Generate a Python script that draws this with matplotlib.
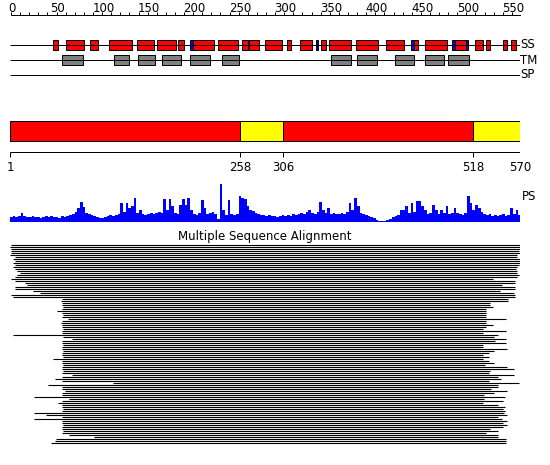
import matplotlib
matplotlib.use("Agg")
import matplotlib.pyplot as plt
from matplotlib.patches import Rectangle

# ---------------- data ----------------
seq_len = 570
ruler_ticks = list(range(0, 551, 10))
ruler_labels = list(range(0, 551, 50))

# secondary structure segments (start, end, kind) kind: H = red, E = blue
ss_segments = [
    (49, 54, "H"), (63, 84, "H"), (90, 99, "H"), (112, 137, "H"), (143, 162, "H"),
    (165, 186, "H"), (188, 195, "H"), (202, 205, "E"), (205, 229, "H"), (233, 255, "H"),
    (260, 266, "H"), (268, 279, "H"), (286, 305, "H"), (310, 314, "H"), (324, 338, "H"),
    (342, 345, "E"), (348, 353, "H"), (357, 381, "H"), (387, 412, "H"), (421, 441, "H"),
    (448, 452, "E"), (452, 456, "H"), (464, 489, "H"), (494, 498, "E"), (498, 510, "H"),
    (510, 512, "E"), (520, 529, "H"), (532, 537, "H"), (551, 555, "H"), (560, 566, "H"),
]
tm_segments = [
    (59, 82), (117, 134), (144, 163), (171, 192), (202, 224), (238, 257),
    (359, 381), (388, 410), (430, 452), (464, 485), (490, 513),
]
track_names = ["SS", "TM", "SP"]

domain_bounds = [1, 258, 306, 518, 570]
domain_kinds = ["red", "yellow", "red", "yellow"]

# PS profile, one value per 3 residues
ps_bin = 3
ps_values = [
    5, 6, 5, 6, 9, 6, 5, 5, 6, 5, 5, 4, 5, 6, 5, 6, 5, 5, 4, 6,
    5, 6, 7, 8, 10, 14, 20, 15, 9, 8, 7, 6, 5, 4, 4, 5, 6, 7, 6, 7,
    8, 19, 10, 19, 14, 16, 24, 9, 12, 8, 7, 8, 9, 8, 9, 10, 9, 23, 12, 23,
    16, 9, 8, 17, 23, 17, 24, 12, 8, 7, 9, 22, 14, 8, 9, 10, 8, 3, 38, 12,
    7, 22, 8, 7, 8, 26, 24, 23, 16, 12, 11, 9, 8, 7, 7, 6, 7, 6, 6, 5,
    6, 7, 6, 7, 6, 8, 7, 8, 9, 8, 10, 12, 9, 8, 10, 20, 12, 9, 14, 8,
    9, 8, 8, 9, 8, 10, 19, 12, 24, 16, 9, 8, 7, 6, 5, 4, 2, 1, 1, 1,
    2, 3, 5, 6, 7, 12, 12, 16, 9, 19, 10, 21, 21, 16, 12, 8, 9, 17, 12, 8,
    12, 9, 16, 8, 9, 14, 9, 8, 7, 9, 26, 19, 12, 17, 14, 10, 8, 7, 8, 6,
    7, 6, 7, 8, 6, 7, 14, 8, 12, 7,
]

msa_starts = [
    2, 1, 2, 2, 2, 1, 7, 4, 7, 4, 7, 4, 7, 9, 12, 9, 7, 2, 7, 18,
    20, 7, 7, 27, 35, 2, 4, 59, 58, 59, 59, 60, 59, 53, 59, 60, 59, 66, 59, 58,
    59, 59, 60, 59, 59, 4, 60, 70, 59, 59, 60, 59, 59, 60, 59, 59, 60, 49, 59, 59,
    60, 59, 59, 60, 59, 70, 59, 51, 59, 116, 43, 59, 59, 62, 59, 59, 28, 67, 59, 55,
    59, 59, 60, 59, 28, 41, 59, 28, 59, 59, 60, 59, 59, 60, 59, 67, 95, 52, 51, 47,
]
msa_ends = [
    570, 570, 570, 569, 570, 567, 567, 570, 570, 570, 569, 567, 566, 567, 567, 569, 567, 540, 564, 564,
    550, 564, 564, 548, 563, 564, 564, 557, 557, 537, 537, 540, 532, 532, 532, 532, 532, 554, 532, 532,
    540, 532, 529, 554, 529, 546, 541, 554, 542, 554, 529, 529, 556, 541, 535, 529, 535, 529, 535, 541,
    531, 555, 563, 537, 535, 563, 546, 549, 535, 569, 546, 545, 538, 555, 541, 530, 553, 530, 551, 529,
    545, 553, 551, 553, 552, 556, 545, 550, 556, 551, 556, 551, 537, 546, 532, 545, 545, 554, 554, 554,
]

# ---------------- figure ----------------
W, H = 550, 465
fig = plt.figure(figsize=(W / 100, H / 100), dpi=100)
fs = 8.5
px = 0.72  # one pixel in points

# main axes: x in residues (1 -> px 10, 570 -> px 520), y in pixel rows
ax = fig.add_axes([10 / W, 0, 510 / W, 1])
ax.set_xlim(1, seq_len)
ax.set_ylim(H, 0)
ax.axis("off")

# ruler axes
axr = fig.add_axes([11 / W, 0, 510 / W, 1])
axr.set_xlim(0, 560)
axr.set_ylim(H, 0)
axr.axis("off")
axr.plot([0, 560], [15, 15], color="black", lw=px, solid_capstyle="butt")
for t in ruler_ticks:
    axr.plot([t, t], [12, 15], color="black", lw=px, solid_capstyle="butt")
for t in ruler_labels:
    axr.text(t + 1.5, 11.5, str(t), ha="center", va="baseline", fontsize=fs, color="black")

# tracks
track_y = {"SS": 45, "TM": 60, "SP": 75}
for name in track_names:
    y = track_y[name]
    ax.plot([1, seq_len], [y, y], color="black", lw=px, solid_capstyle="butt")
    ax.text(seq_len + 0.5, y, name, ha="left", va="center", fontsize=fs, clip_on=False)

ss_color = {"H": "#ff0000", "E": "#0000ff"}
for s, e, k in ss_segments:
    ax.add_patch(Rectangle((s, 40.5), e - s, 10, facecolor=ss_color[k],
                           edgecolor="black", lw=px))
for s, e in tm_segments:
    ax.add_patch(Rectangle((s, 55.5), e - s, 10, facecolor="#808080",
                           edgecolor="black", lw=px))

# domain bar
dcol = {"red": "#ff0000", "yellow": "#ffff00"}
for i, k in enumerate(domain_kinds):
    s, e = domain_bounds[i], domain_bounds[i + 1]
    ax.add_patch(Rectangle((s, 120.5), e - s, 20, facecolor=dcol[k],
                           edgecolor="black", lw=px))
ax.plot([1, seq_len], [152.5, 152.5], color="black", lw=px, solid_capstyle="butt")
for b in domain_bounds:
    ax.plot([b, b], [152.5, 157], color="black", lw=px, solid_capstyle="butt")
    ax.text(b, 167, str(b), ha="center", va="center", fontsize=fs)

# PS profile
axp = fig.add_axes([10 / W, (H - 222) / H, 510 / W, 40 / H])
axp.set_xlim(1, seq_len)
axp.set_ylim(0, 40)
axp.axis("off")
xs = [1 + i * ps_bin for i in range(len(ps_values))] + [seq_len]
ys = ps_values + [ps_values[-1]]
axp.fill_between(xs, 0, ys, step="post", color="#0000ff", lw=0)
axp.plot([1, seq_len], [0.3, 0.3], color="#0000ff", lw=px)
ax.text(seq_len + 2, 196, "PS", ha="left", va="center", fontsize=fs, clip_on=False)

# MSA
ax.text((1 + seq_len) / 2, 236, "Multiple Sequence Alignment", ha="center",
        va="center", fontsize=fs)
ys_msa = [245 + 2 * i for i in range(len(msa_starts))]
ax.hlines(ys_msa, msa_starts, msa_ends, color="black", lw=0.8, capstyle="butt")

fig.savefig("out.png", dpi=100)
